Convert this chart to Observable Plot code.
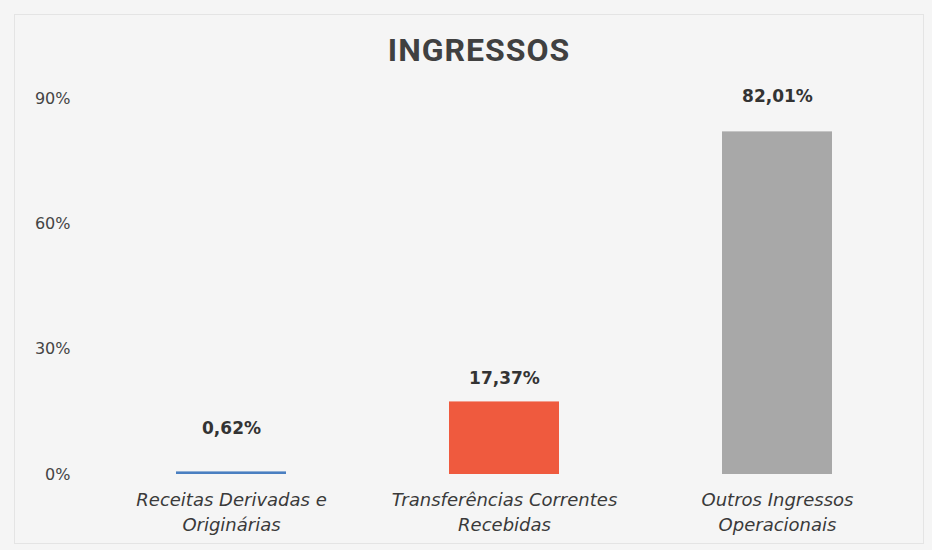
<!DOCTYPE html>
<html>
<head>
<meta charset="utf-8">
<script src="https://cdn.jsdelivr.net/npm/d3@7"></script>
<script src="https://cdn.jsdelivr.net/npm/@observablehq/plot@0.6"></script>
<style>
  html, body { margin: 0; padding: 0; background: #f5f5f5; }
  #wrap { position: relative; width: 932px; height: 550px; overflow: hidden; background: #f5f5f5; }
  #frame { position: absolute; left: 14px; top: 14px; width: 910px; height: 530px; border: 1px solid #e4e4e4; box-sizing: border-box; }
  #title { position: absolute; left: 13px; top: 0; width: 932px; height: 80px; text-align: center;
    font-family: "Liberation Sans Narrow", "Roboto", sans-serif; font-weight: bold; font-size: 32px;
    letter-spacing: 1px; line-height: 100px; color: #404040; }
  #chart { position: absolute; left: 0; top: 80px; }
</style>
</head>
<body>
<div id="wrap">
  <div id="frame"></div>
  <div id="title">INGRESSOS</div>
  <div id="chart"></div>
</div>
<script>
const categories = ["Receitas Derivadas e\nOriginárias", "Transferências Correntes\nRecebidas", "Outros Ingressos\nOperacionais"];
const values = [0.62, 17.37, 82.01];
const colors = ["#4a7fc1", "#ef5a3e", "#a8a8a8"];
const yTicks = [0, 30, 60, 90];

const data = categories.map((c, i) => ({category: c, value: values[i], color: colors[i]}));
const fmt = v => d3.format(".2f")(v).replace(".", ",") + "%";
const labelDy = [-43, -23, -35];

const plot = Plot.plot({
  width: 932,
  height: 470,
  marginLeft: 93,
  marginRight: 18,
  marginTop: 18,
  marginBottom: 76,
  style: {background: "transparent", fontFamily: "DejaVu Sans, sans-serif"},
  x: {domain: categories, paddingInner: 0.598, paddingOuter: 0.3, axis: null},
  y: {domain: [0, 90], ticks: yTicks, axis: null},
  marks: [
    Plot.gridY(yTicks.filter(t => t > 0), {stroke: "#dcdcdc", strokeOpacity: 1, x1: 88, x2: 912}),
    Plot.axisY(yTicks, {tickSize: 0, tickPadding: 23, label: null, tickFormat: d => d + "%", fontSize: 16, fill: "#444444", stroke: null}),
    Plot.barY(data, {x: "category", y: "value", fill: "color"}),
    ...data.map((d, i) => Plot.text([d], {x: "category", y: "value", text: r => fmt(r.value), dy: labelDy[i],
      fontWeight: "bold", fontSize: 17, fill: "#333333"})),
    Plot.text(data, {x: "category", y: 0, text: "category", dy: 14, lineAnchor: "top", lineHeight: 1.39,
      fontStyle: "italic", fontSize: 18, fill: "#3a3a3a"})
  ]
});
plot.querySelectorAll("text").forEach(t => { if (t.getAttribute("font-style") === "italic") t.style.letterSpacing = "1px"; });
document.getElementById("chart").appendChild(plot);
</script>
</body>
</html>
